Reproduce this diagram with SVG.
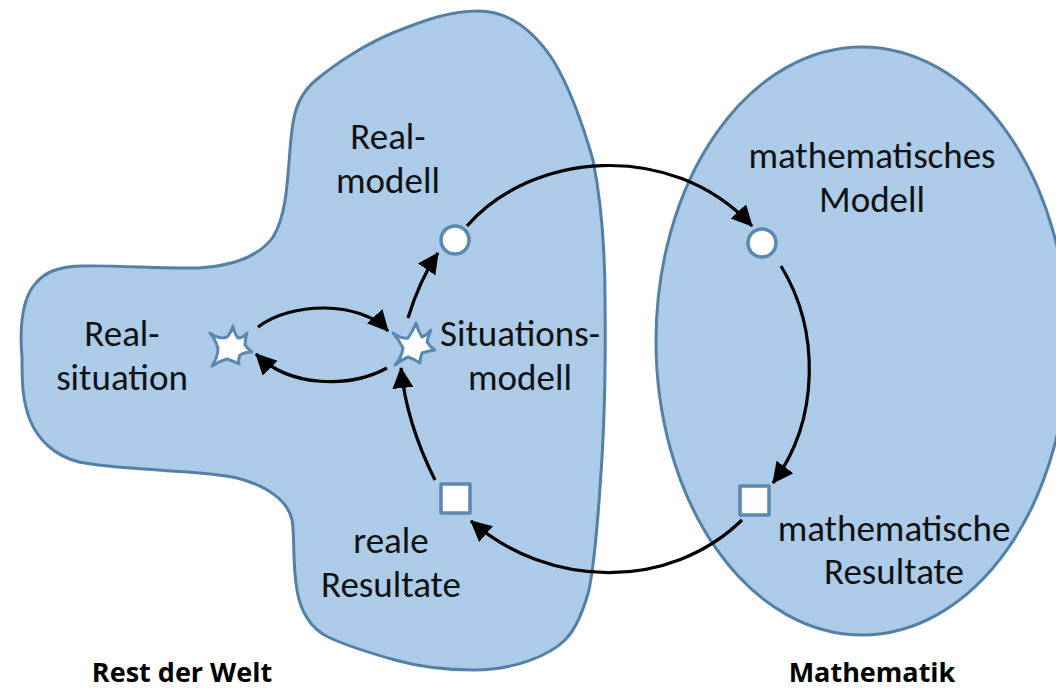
<svg xmlns="http://www.w3.org/2000/svg" width="1056" height="688" viewBox="0 0 1056 688">
<style>
.region{fill:#abcbe8;stroke:#5580a6;stroke-width:3}
.mark{fill:#fff;stroke:#5b88b0;stroke-width:3.5;stroke-linejoin:round}
.star{stroke-width:3}
.c{fill:none;stroke:#000;stroke-width:3.2}
text{font-family:Carlito,"Open Sans","Liberation Sans",sans-serif;font-size:37px;fill:#111;text-anchor:middle}
.b{font-family:"Open Sans","Liberation Sans",sans-serif;font-size:27px;font-weight:700;fill:#000}
</style>
<defs><marker id="a" markerUnits="userSpaceOnUse" markerWidth="26" markerHeight="24" refX="20" refY="10.5" orient="auto"><path d="M0 0L21 10.5L0 21Z" fill="#000"/></marker></defs>
<g id="region-welt"><path class="region" d="M478 11C510 11 535 33 553 60C570 88 583 125 593 160C601 200 605 250 605 300C606 380 604 430 601 473C598 520 595 560 589 590C583 612 575 630 565 640C550 655 515 670 474 670C445 670 420 667 395 660C370 653 345 645 328 637C310 628 300 610 297 590C292 560 295 535 292 520C288 500 265 485 237 478C210 472 180 472 158 470C130 468 105 467 79 462C55 456 38 440 30 420C22 400 22 380 22 357C20 335 20 300 36 283C45 272 58 267 80 266C120 265 160 269 198 268C230 266 258 258 273 237C285 218 287 190 290 150C292 125 294 112 300 100C304 92 310 85 316 80C340 60 370 42 395 32C425 20 450 11 478 11Z"/></g>
<g id="region-mathematik"><ellipse class="region" cx="862" cy="341" rx="206" ry="294"/></g>
<g id="connectors">
<path class="c" d="M258 327C290 302 360 300 388 331" marker-end="url(#a)"/>
<path class="c" d="M387 368C350 388 290 388 256 354" marker-end="url(#a)"/>
<path class="c" d="M408 318C415 295 425 272 438 253" marker-end="url(#a)"/>
<path class="c" d="M467 226C530 153 670 138 752 226" marker-end="url(#a)"/>
<path class="c" d="M781 266C820 330 820 420 773 483" marker-end="url(#a)"/>
<path class="c" d="M742 520C670 590 550 590 471 521" marker-end="url(#a)"/>
<path class="c" d="M435 480C420 450 405 410 401 368" marker-end="url(#a)"/>
</g>
<g id="node-realsituation"><path class="mark star" d="M210 333Q220 340 227 337Q231 333 233 326Q234 333 238 338Q243 338 247 333Q245 340 245 345Q248 349 252 352Q245 352 240 355Q238 359 239 364Q233 361 227 359Q219 361 212 366Q218 357 218 348Q215 339 210 333Z"/><text x="122" y="346">Real-</text><text x="122" y="390">situation</text></g>
<g id="node-situationsmodell"><path class="mark star" d="M393 333Q401 339 408 338Q413 331 416 323Q418 331 422 337Q427 335 431 330Q428 336 427 342Q430 347 435 350Q428 351 422 353Q420 358 420 363Q414 359 408 357Q401 360 395 365Q402 357 403 348Q399 340 393 333Z"/><text x="520" y="346">Situations-</text><text x="520" y="390">modell</text></g>
<g id="node-realmodell"><circle class="mark" cx="455" cy="240" r="14"/><text x="388" y="149">Real-</text><text x="388" y="193">modell</text></g>
<g id="node-mathmodell"><circle class="mark" cx="762" cy="243" r="14"/><text x="872" y="168">mathematisches</text><text x="872" y="212">Modell</text></g>
<g id="node-realeresultate"><rect class="mark" x="441" y="484" width="29" height="29"/><text x="391" y="553">reale</text><text x="391" y="597">Resultate</text></g>
<g id="node-mathresultate"><rect class="mark" x="740" y="486" width="29" height="29"/><text x="894" y="541">mathematische</text><text x="894" y="584">Resultate</text></g>
<text class="b" x="182" y="682">Rest der Welt</text>
<text class="b" x="872" y="682">Mathematik</text>
</svg>
